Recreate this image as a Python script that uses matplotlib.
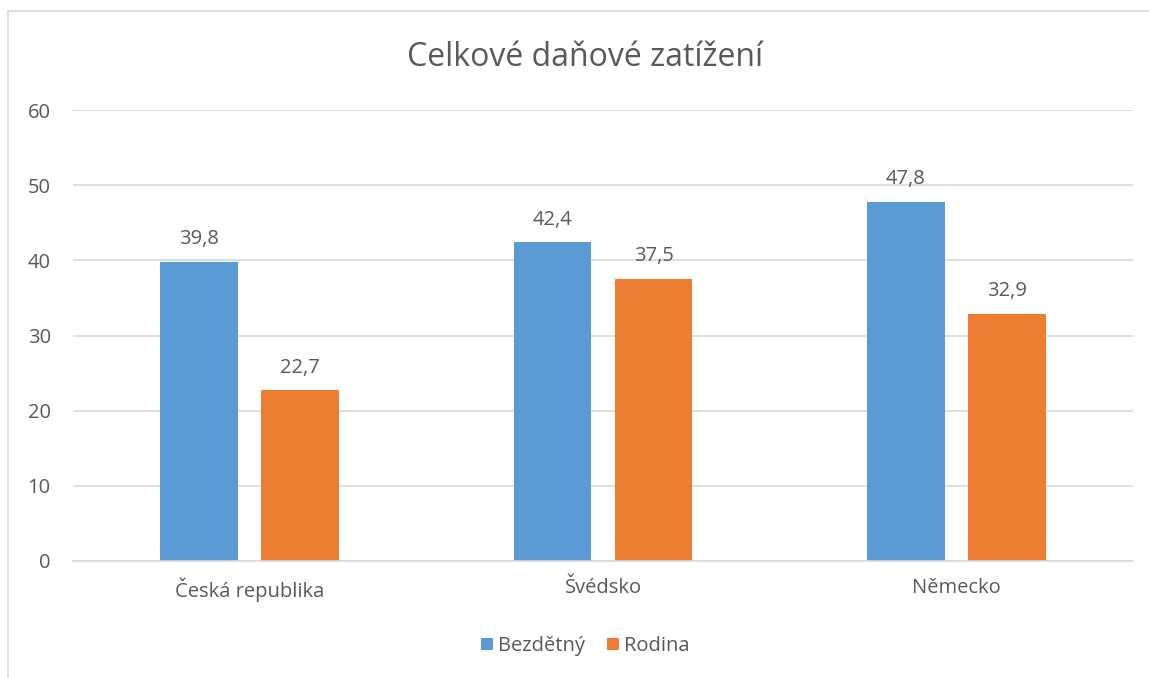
import matplotlib.pyplot as plt
import numpy as np
from matplotlib.patches import Rectangle

categories = ["Česká republika", "Švédsko", "Německo"]
bezdetny = [39.8, 42.4, 47.8]
rodina = [22.7, 37.5, 32.9]
series_names = ["Bezdětný", "Rodina"]

plt.rcParams['font.family'] = ['Open Sans', 'DejaVu Sans']
text_col = "#595959"
grid_col = "#D9D9D9"

fig = plt.figure(figsize=(11.49, 6.78), dpi=100)
ax = fig.add_axes([73 / 1149, 117 / 678, 1060 / 1149, 451 / 678])

# chart border (only left and top visible in the reference)
fig.add_artist(Rectangle((8 / 1149, -0.1), 1.2, (678 - 11) / 678 + 0.1,
                         transform=fig.transFigure, fill=False,
                         edgecolor="#D9D9D9", linewidth=1.2))

x = np.arange(len(categories))
w = 0.22
off = 0.143
b1 = ax.bar(x - off, bezdetny, w, color="#5B9BD5", label=series_names[0], zorder=3)
b2 = ax.bar(x + off, rodina, w, color="#ED7D31", label=series_names[1], zorder=3)

for bars, vals in ((b1, bezdetny), (b2, rodina)):
    for r, v in zip(bars, vals):
        ax.text(r.get_x() + r.get_width() / 2, v + 1.7, f"{v:.1f}".replace(".", ","),
                ha="center", va="bottom", fontsize=14.5, color=text_col)

ax.set_xlim(-0.5, 2.5)
ax.set_ylim(0, 60)
ax.set_yticks(range(0, 61, 10))
ax.set_xticks(x)
ax.set_xticklabels(categories)
ax.tick_params(axis="both", length=0, labelsize=14.5, labelcolor=text_col)
ax.tick_params(axis="x", pad=12)
ax.tick_params(axis="y", pad=16)
ax.grid(axis="y", color=grid_col, linewidth=1.2, zorder=0)
for s in ("left", "right", "top"):
    ax.spines[s].set_visible(False)
ax.spines["bottom"].set_color(grid_col)
ax.spines["bottom"].set_linewidth(1.2)
ax.spines["bottom"].set_zorder(4)

fig.text(585 / 1149, 1 - 57 / 678, "Celkové daňové zatížení", ha="center", va="center",
         fontsize=23, color=text_col)

fig.legend(loc="center", bbox_to_anchor=(585 / 1149, 1 - 646 / 678), ncol=2,
           frameon=False, fontsize=14.5, labelcolor=text_col, handlelength=0.6,
           handleheight=0.6, handletextpad=0.25, columnspacing=1.1)

fig.savefig("out.png", dpi=100)
